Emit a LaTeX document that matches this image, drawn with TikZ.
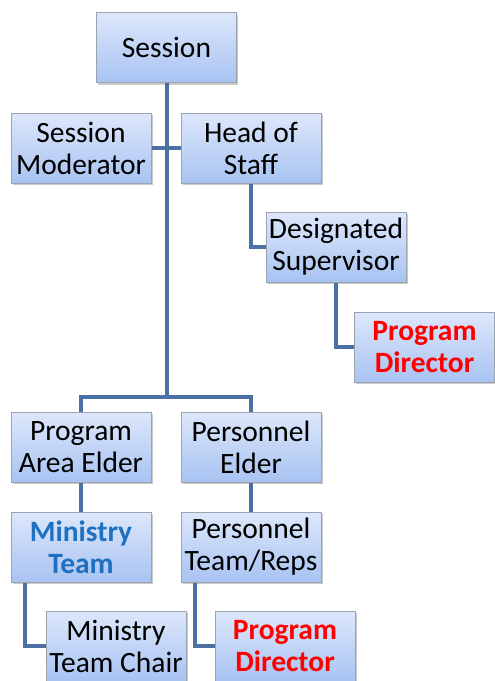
\documentclass[tikz,border=0pt]{standalone}
\usepackage{fontspec}
\setmainfont{Carlito}
\usetikzlibrary{shadows,backgrounds}
\definecolor{linec}{HTML}{4A70A4}
\definecolor{topc}{HTML}{DDE7FB}
\definecolor{botc}{HTML}{A8C3F2}
\definecolor{edgec}{HTML}{9AA3AE}
\definecolor{mtblue}{HTML}{1F70C1}
\tikzset{
  orgbox/.style={rectangle, draw=edgec, line width=1pt, top color=topc, bottom color=botc,
    minimum width=140pt, minimum height=70pt, inner sep=0pt, align=center,
    font=\fontsize{29.5}{32}\selectfont,
    drop shadow={shadow xshift=1.5pt, shadow yshift=-2pt, opacity=0.35, fill=black!60}},
  conn/.style={draw=linec, line width=4pt},
  hl/.style={font=\fontsize{29.5}{32}\selectfont\bfseries}
}
\begin{document}
\begin{tikzpicture}[x=1pt,y=-1pt]
\useasboundingbox (0,0) rectangle (495,681);
\node[orgbox] (s) at (166.5,47.5) {Session};
\node[orgbox] (sm) at (81,148) {Session\\Moderator};
\node[orgbox] (hs) at (251,148) {Head of\\Staff};
\node[orgbox] (ds) at (336,247) {Designated\\Supervisor};
\node[orgbox,hl,text=red] (pda) at (424.5,347) {Program\\Director};
\node[orgbox] (pae) at (81,447) {Program\\Area Elder};
\node[orgbox] (pe) at (251,447) {Personnel\\Elder};
\node[orgbox,hl,text=mtblue] (mt) at (81,547) {Ministry\\Team};
\node[orgbox] (ptr) at (251,547) {Personnel\\Team/Reps};
\node[orgbox] (mtc) at (116,646) {Ministry\\Team Chair};
\node[orgbox,hl,text=red] (pdb) at (285,646) {Program\\Director};
\coordinate (j) at (166.5,397);
\begin{scope}[on background layer]
\draw[conn] (s.south) -- (j);
\draw[conn] (pae.north) |- (j) -| (pe.north);
\draw[conn] (sm.east) -- (hs.west);
\draw[conn] (hs.south) |- (ds.west);
\draw[conn] (ds.south) |- (pda.west);
\draw[conn] (pae.south) -- (mt.north);
\draw[conn] (pe.south) -- (ptr.north);
\draw[conn] ([xshift=-56pt]mt.south) |- (mtc.west);
\draw[conn] ([xshift=-56pt]ptr.south) |- (pdb.west);
\end{scope}
\end{tikzpicture}
\end{document}
